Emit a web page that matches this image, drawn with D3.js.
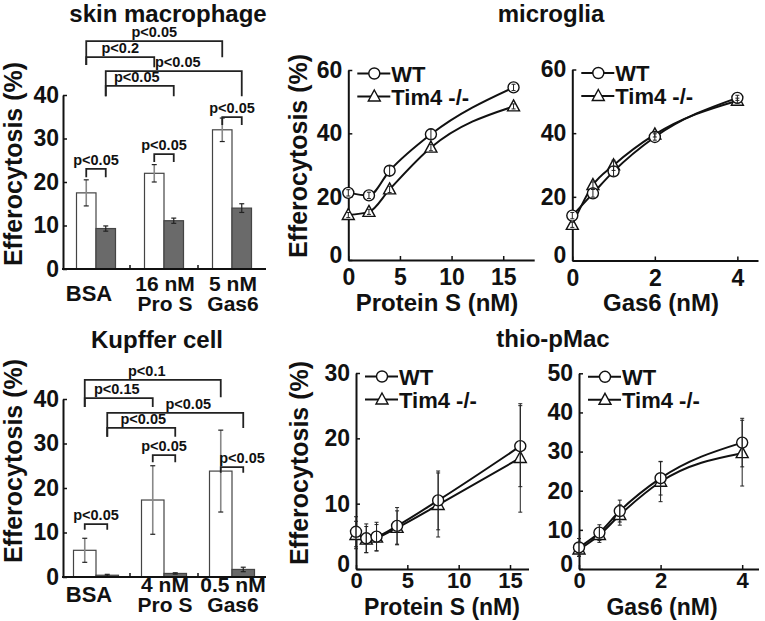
<!DOCTYPE html>
<html><head><meta charset="utf-8">
<script src="https://cdn.jsdelivr.net/npm/d3@7"></script>
<style>
body{margin:0;background:#fff}
svg{display:block}
text{font-family:"Liberation Sans",Arial,Helvetica,sans-serif;font-weight:bold;fill:#111}
</style>
</head><body>
<svg id="c" width="765" height="621"></svg>
<script>
// ---------------- DATA ----------------
const seriesNames = ["WT", "Tim4 -/-"];

// skin macrophage (bar)
const skinGroups = ["BSA", "16 nM\nPro S", "5 nM\nGas6"];
const skinWT = [17.5, 22.0, 32.0];
const skinWTerr = [3.0, 2.0, 2.7];
const skinKO = [9.3, 11.1, 14.0];
const skinKOerr = [0.6, 0.6, 1.0];
const barTicks = [0, 10, 20, 30, 40];
// brackets: [fromGroup, fromSeries, toGroup, toSeries, level, leftEnd, rightEnd, label, labelShift]
const skinBrackets = [
  [0, 0, 2, 0, 52.4, 46.9, 48.7, "p<0.05", 0],
  [0, 0, 1, 0, 48.7, 46.9, 46.4, "p<0.2", 0],
  [0, 1, 2, 1, 45.5, 39.7, 39.7, "p<0.05", 4],
  [0, 1, 1, 1, 42.1, 39.7, 39.7, "p<0.05", -3]
];
// pair brackets: [group, level, legEnd, label, labelShift]
const skinPairs = [
  [0, 23.0, 21.1, "p<0.05", 0],
  [1, 26.4, 24.6, "p<0.05", 0],
  [2, 34.9, 33.1, "p<0.05", 0]
];

// Kupffer cell (bar)
const kupGroups = ["BSA", "4 nM\nPro S", "0.5 nM\nGas6"];
const kupWT = [6.0, 17.3, 23.8];
const kupWTerr = [2.7, 7.7, 9.2];
const kupKO = [0.4, 0.8, 1.7];
const kupKOerr = [0.2, 0.15, 0.5];
const kupBrackets = [
  [0, 0, 2, 0, 44.3, 38.2, 40.4, "p<0.1", -6],
  [0, 0, 1, 0, 40.2, 38.2, 38.2, "p<0.15", -2],
  [0, 1, 2, 1, 36.9, 31.5, 33.5, "p<0.05", 13],
  [0, 1, 1, 1, 33.5, 31.5, 31.5, "p<0.05", 2]
];
const kupPairs = [
  [0, 11.9, 10.6, "p<0.05", 0],
  [1, 27.4, 25.8, "p<0.05", 0],
  [2, 24.7, 23.4, "p<0.05", 10]
];

// microglia - Protein S
const mgProSx = [0, 2, 4, 8, 16];
const mgProSWT = [21.2, 20.4, 28.2, 39.7, 54.5];
const mgProSWTerr = [1.0, 1.0, 1.5, 1.6, 1.0];
const mgProSKO = [14.2, 15.2, 22.3, 35.5, 48.5];
const mgProSKOerr = [0.8, 0.8, 1.0, 1.0, 0.8];
const proSTicks = [0, 5, 10, 15];
const mgYTicks = [0, 20, 40, 60];

// microglia - Gas6
const mgGasx = [0, 0.5, 1, 2, 4];
const mgGasWT = [14.1, 21.1, 28.0, 38.8, 51.1];
const mgGasWTerr = [1.0, 1.2, 1.5, 1.0, 0.8];
const mgGasKO = [11.2, 23.7, 29.9, 39.6, 50.2];
const mgGasKOerr = [0.8, 1.0, 1.6, 0.8, 0.8];
const gasTicks = [0, 2, 4];

// thio-pMac - Protein S
const thProSx = [0, 1, 2, 4, 8, 16];
const thProSWT = [5.7, 4.7, 4.95, 6.6, 10.5, 18.8];
const thProSWTerr = [2.3, 2.2, 2.2, 2.8, 4.5, 6.2];
const thProSKO = [5.2, 4.5, 4.8, 6.3, 9.8, 17.0];
const thProSKOerr = [2.1, 2.0, 2.0, 2.6, 4.9, 8.3];
const thProSYTicks = [0, 10, 20, 30];

// thio-pMac - Gas6
const thGasx = [0, 0.5, 1, 2, 4];
const thGasWT = [5.5, 9.3, 14.8, 23.2, 32.3];
const thGasWTerr = [2.3, 2.0, 2.8, 4.3, 6.2];
const thGasKO = [5.0, 8.7, 13.8, 22.3, 29.6];
const thGasKOerr = [1.7, 1.9, 2.6, 5.1, 8.4];
const thGasYTicks = [0, 10, 20, 30, 40, 50];

// ---------------- DRAWING ----------------
const svg = d3.select("#c");
const FONT_TICK = 23;
const fmt = d3.format("d");

function title(txt, x, y) {
  svg.append("text").attr("x", x).attr("y", y).attr("text-anchor", "middle")
    .style("font-size", "24px").text(txt);
}
function yLabel(x, y) {
  svg.append("text").attr("transform", `translate(${x},${y}) rotate(-90)`)
    .attr("text-anchor", "middle").style("font-size", "25px").text("Efferocytosis (%)");
}
function xTitle(txt, x, y, size) {
  svg.append("text").attr("x", x).attr("y", y).attr("text-anchor", "middle")
    .style("font-size", size + "px").text(txt);
}
function styleAxis(g) {
  g.select(".domain").attr("stroke", "#111").attr("stroke-width", 2);
  g.selectAll(".tick line").attr("stroke", "#111").attr("stroke-width", 1.5);
  g.selectAll(".tick text").style("font-family", '"Liberation Sans",Arial,sans-serif')
    .style("font-weight", "bold").attr("fill", "#111");
}

function drawBar(cfg) {
  const g = svg.append("g");
  const x = d3.scaleBand().domain(cfg.groups).range(cfg.xRange).padding(0);
  const inner = d3.scaleBand().domain(seriesNames).range([-cfg.barTotal / 2, cfg.barTotal / 2]);
  const y = d3.scaleLinear().domain([0, 40]).range(cfg.yRange);
  const cx = (gi, si) => x(cfg.groups[gi]) + x.bandwidth() / 2 + inner(seriesNames[si]) + inner.bandwidth() / 2;

  const rows = cfg.groups.map((gname, i) => ({ gname, i }));
  const vals = [cfg.wt, cfg.ko], errs = [cfg.wtErr, cfg.koErr];
  const fills = ["#ffffff", "#6a6a6a"], strokes = ["#444", "#444"];
  seriesNames.forEach((s, si) => {
    g.selectAll(null).data(rows).enter().append("rect")
      .attr("x", d => x(d.gname) + x.bandwidth() / 2 + inner(s))
      .attr("width", inner.bandwidth())
      .attr("y", d => y(vals[si][d.i]))
      .attr("height", d => y(0) - y(vals[si][d.i]))
      .attr("fill", fills[si]).attr("stroke", strokes[si]).attr("stroke-width", 1.2);
  });
  // error bars
  seriesNames.forEach((s, si) => {
    const col = si === 0 ? "#888" : "#222";
    rows.forEach(d => {
      const xc = cx(d.i, si), v = vals[si][d.i], e = errs[si][d.i];
      g.append("line").attr("x1", xc).attr("x2", xc).attr("y1", y(v - e)).attr("y2", y(v + e))
        .attr("stroke", col).attr("stroke-width", si === 0 ? 1.6 : 1.2);
      [v - e, v + e].forEach(t => g.append("line").attr("x1", xc - 2.5).attr("x2", xc + 2.5)
        .attr("y1", y(t)).attr("y2", y(t)).attr("stroke", "#222").attr("stroke-width", 1.2));
    });
  });
  // axes
  const ya = g.append("g").attr("transform", `translate(${cfg.xRange[0] + 1},0)`)
    .call(d3.axisLeft(y).tickValues(barTicks).tickFormat(fmt).tickSizeInner(-4).tickSizeOuter(0).tickPadding(4));
  styleAxis(ya);
  ya.selectAll(".tick text").style("font-size", FONT_TICK + "px");
  g.append("line").attr("x1", cfg.xRange[0]).attr("x2", cfg.xRange[1]).attr("y1", y(0)).attr("y2", y(0))
    .attr("stroke", "#111").attr("stroke-width", 2);
  for (let i = 0; i < cfg.groups.length - 1; i++) {
    const bx = x(cfg.groups[i]) + x.bandwidth();
    g.append("line").attr("x1", bx).attr("x2", bx).attr("y1", y(0)).attr("y2", y(0) - 4)
      .attr("stroke", "#111").attr("stroke-width", 1.5);
  }
  // group labels
  cfg.groups.forEach((gname, i) => {
    const lines = gname.split("\n");
    const xc = x(gname) + x.bandwidth() / 2 + (i === 0 ? -7 : 1);
    if (lines.length === 1) {
      g.append("text").attr("text-anchor", "middle").style("font-size", "22px")
        .attr("x", xc).attr("y", cfg.labelBase + 10).text(lines[0]);
    } else {
      lines.forEach((ln, k) => g.append("text").attr("text-anchor", "middle").style("font-size", "21px")
        .attr("x", xc).attr("y", cfg.labelBase + k * 20).text(ln));
    }
  });
  // big brackets
  cfg.brackets.forEach(b => {
    const [fg, fs, tg, ts, lev, le, re, lab, sh] = b;
    const x1 = cx(fg, fs), x2 = cx(tg, ts);
    g.append("path").attr("d", `M${x1},${y(le)}V${y(lev)}H${x2}V${y(re)}`)
      .attr("fill", "none").attr("stroke", "#222").attr("stroke-width", 1.8);
    g.append("text").attr("x", (x1 + x2) / 2 + sh).attr("y", y(lev) - 4)
      .attr("text-anchor", "middle").style("font-size", "14.5px").text(lab);
  });
  cfg.pairs.forEach(p => {
    const [gi, lev, le, lab, sh] = p;
    const x1 = cx(gi, 0), x2 = cx(gi, 1);
    g.append("path").attr("d", `M${x1},${y(le)}V${y(lev)}H${x2}V${y(le)}`)
      .attr("fill", "none").attr("stroke", "#222").attr("stroke-width", 1.8);
    g.append("text").attr("x", (x1 + x2) / 2 + sh).attr("y", y(lev) - 4)
      .attr("text-anchor", "middle").style("font-size", "14.5px").text(lab);
  });
}

function drawLine(cfg) {
  const g = svg.append("g");
  const x = d3.scaleLinear().domain(cfg.xDomain).range(cfg.xRange);
  const y = d3.scaleLinear().domain(cfg.yDomain).range(cfg.yRange);
  const line = d3.line().x(d => x(d[0])).y(d => y(d[1])).curve(d3.curveMonotoneX);
  const ser = [
    { xs: cfg.xs, ys: cfg.wt, es: cfg.wtErr, m: "circle" },
    { xs: cfg.xs, ys: cfg.ko, es: cfg.koErr, m: "tri" }
  ];
  // axes
  const xa = g.append("g").attr("transform", `translate(0,${cfg.yRange[0]})`)
    .call(d3.axisBottom(x).tickValues(cfg.xTicks).tickFormat(fmt).tickSizeInner(-4).tickSizeOuter(0).tickPadding(cfg.xPad));
  styleAxis(xa);
  xa.selectAll(".tick text").style("font-size", cfg.xFont + "px");
  const ya = g.append("g").attr("transform", `translate(${cfg.xRange[0]},0)`)
    .call(d3.axisLeft(y).tickValues(cfg.yTicks).tickFormat(fmt).tickSizeInner(-4).tickSizeOuter(0).tickPadding(6));
  styleAxis(ya);
  ya.selectAll(".tick text").style("font-size", FONT_TICK + "px");
  ya.selectAll(".tick text").filter(d => d === 0).attr("dy", "0.1em");

  ser.forEach(s => {
    const pts = s.xs.map((v, i) => [v, s.ys[i]]);
    g.append("path").datum(pts).attr("d", line).attr("fill", "none")
      .attr("stroke", "#111").attr("stroke-width", 2);
  });
  const tri = "M0,-6.5L6,4.5L-6,4.5Z";
  [1, 0].forEach(si => {
    const s = ser[si];
    s.xs.forEach((v, i) => {
      if (s.m === "circle") {
        g.append("circle").attr("cx", x(v)).attr("cy", y(s.ys[i])).attr("r", 5.5)
          .attr("fill", "#fff").attr("stroke", "#111").attr("stroke-width", 1.4);
      } else {
        g.append("path").attr("d", tri).attr("transform", `translate(${x(v)},${y(s.ys[i])})`)
          .attr("fill", "#fff").attr("stroke", "#111").attr("stroke-width", 1.4);
      }
    });
  });
  ser.forEach(s => {
    s.xs.forEach((v, i) => {
      const xc = x(v), lo = y(s.ys[i] - s.es[i]), hi = y(s.ys[i] + s.es[i]);
      g.append("line").attr("x1", xc).attr("x2", xc).attr("y1", lo).attr("y2", hi)
        .attr("stroke", "#222").attr("stroke-width", 1);
      [lo, hi].forEach(t => g.append("line").attr("x1", xc - 2).attr("x2", xc + 2)
        .attr("y1", t).attr("y2", t).attr("stroke", "#222").attr("stroke-width", 1));
    });
  });
  // legend
  const lx = cfg.xRange[0] + 9, ly = cfg.yRange[1] + 3.5;
  ser.forEach((s, si) => {
    const yy = ly + si * 23;
    g.append("line").attr("x1", lx).attr("x2", lx + 33).attr("y1", yy).attr("y2", yy)
      .attr("stroke", "#111").attr("stroke-width", 2);
    if (s.m === "circle") {
      g.append("circle").attr("cx", lx + 17).attr("cy", yy).attr("r", 5.5)
        .attr("fill", "#fff").attr("stroke", "#111").attr("stroke-width", 1.4);
    } else {
      g.append("path").attr("d", tri).attr("transform", `translate(${lx + 17},${yy})`)
        .attr("fill", "#fff").attr("stroke", "#111").attr("stroke-width", 1.4);
    }
    g.append("text").attr("x", lx + 34).attr("y", yy + 8).style("font-size", "22px").text(seriesNames[si]);
  });
}

// panels
drawBar({ groups: skinGroups, wt: skinWT, wtErr: skinWTerr, ko: skinKO, koErr: skinKOerr,
  xRange: [62, 266], yRange: [269, 95], barTotal: 39, labelBase: 291,
  brackets: skinBrackets, pairs: skinPairs });
drawBar({ groups: kupGroups, wt: kupWT, wtErr: kupWTerr, ko: kupKO, koErr: kupKOerr,
  xRange: [62, 266], yRange: [577, 399], barTotal: 45, labelBase: 592,
  brackets: kupBrackets, pairs: kupPairs });

drawLine({ xs: mgProSx, wt: mgProSWT, wtErr: mgProSWTerr, ko: mgProSKO, koErr: mgProSKOerr,
  xDomain: [0, 18], xRange: [348.3, 534.2], yDomain: [0, 60], yRange: [260, 70],
  xTicks: proSTicks, yTicks: mgYTicks, xPad: 9, xFont: 23 });
drawLine({ xs: mgGasx, wt: mgGasWT, wtErr: mgGasWTerr, ko: mgGasKO, koErr: mgGasKOerr,
  xDomain: [0, 4.5], xRange: [572.3, 758], yDomain: [0, 60], yRange: [260.5, 69.5],
  xTicks: gasTicks, yTicks: mgYTicks, xPad: 9, xFont: 23 });
drawLine({ xs: thProSx, wt: thProSWT, wtErr: thProSWTerr, ko: thProSKO, koErr: thProSKOerr,
  xDomain: [0, 16.8], xRange: [356, 528.5], yDomain: [0, 30], yRange: [569, 373],
  xTicks: proSTicks, yTicks: thProSYTicks, xPad: 3, xFont: 22 });
drawLine({ xs: thGasx, wt: thGasWT, wtErr: thGasWTerr, ko: thGasKO, koErr: thGasKOerr,
  xDomain: [0, 4.4], xRange: [579, 758.5], yDomain: [0, 50], yRange: [569, 373.3],
  xTicks: gasTicks, yTicks: thGasYTicks, xPad: 3, xFont: 22 });

// titles and axis titles
title("skin macrophage", 168, 22);
title("microglia", 551, 22);
title("Kupffer cell", 157, 348);
title("thio-pMac", 553, 347);
yLabel(22, 164);
yLabel(307, 156);
yLabel(22, 461);
yLabel(308, 463);
xTitle("Protein S (nM)", 437, 311, 24);
xTitle("Gas6 (nM)", 661, 311, 24);
xTitle("Protein S (nM)", 442, 615, 23);
xTitle("Gas6 (nM)", 662, 615, 23);
</script>
</body></html>
